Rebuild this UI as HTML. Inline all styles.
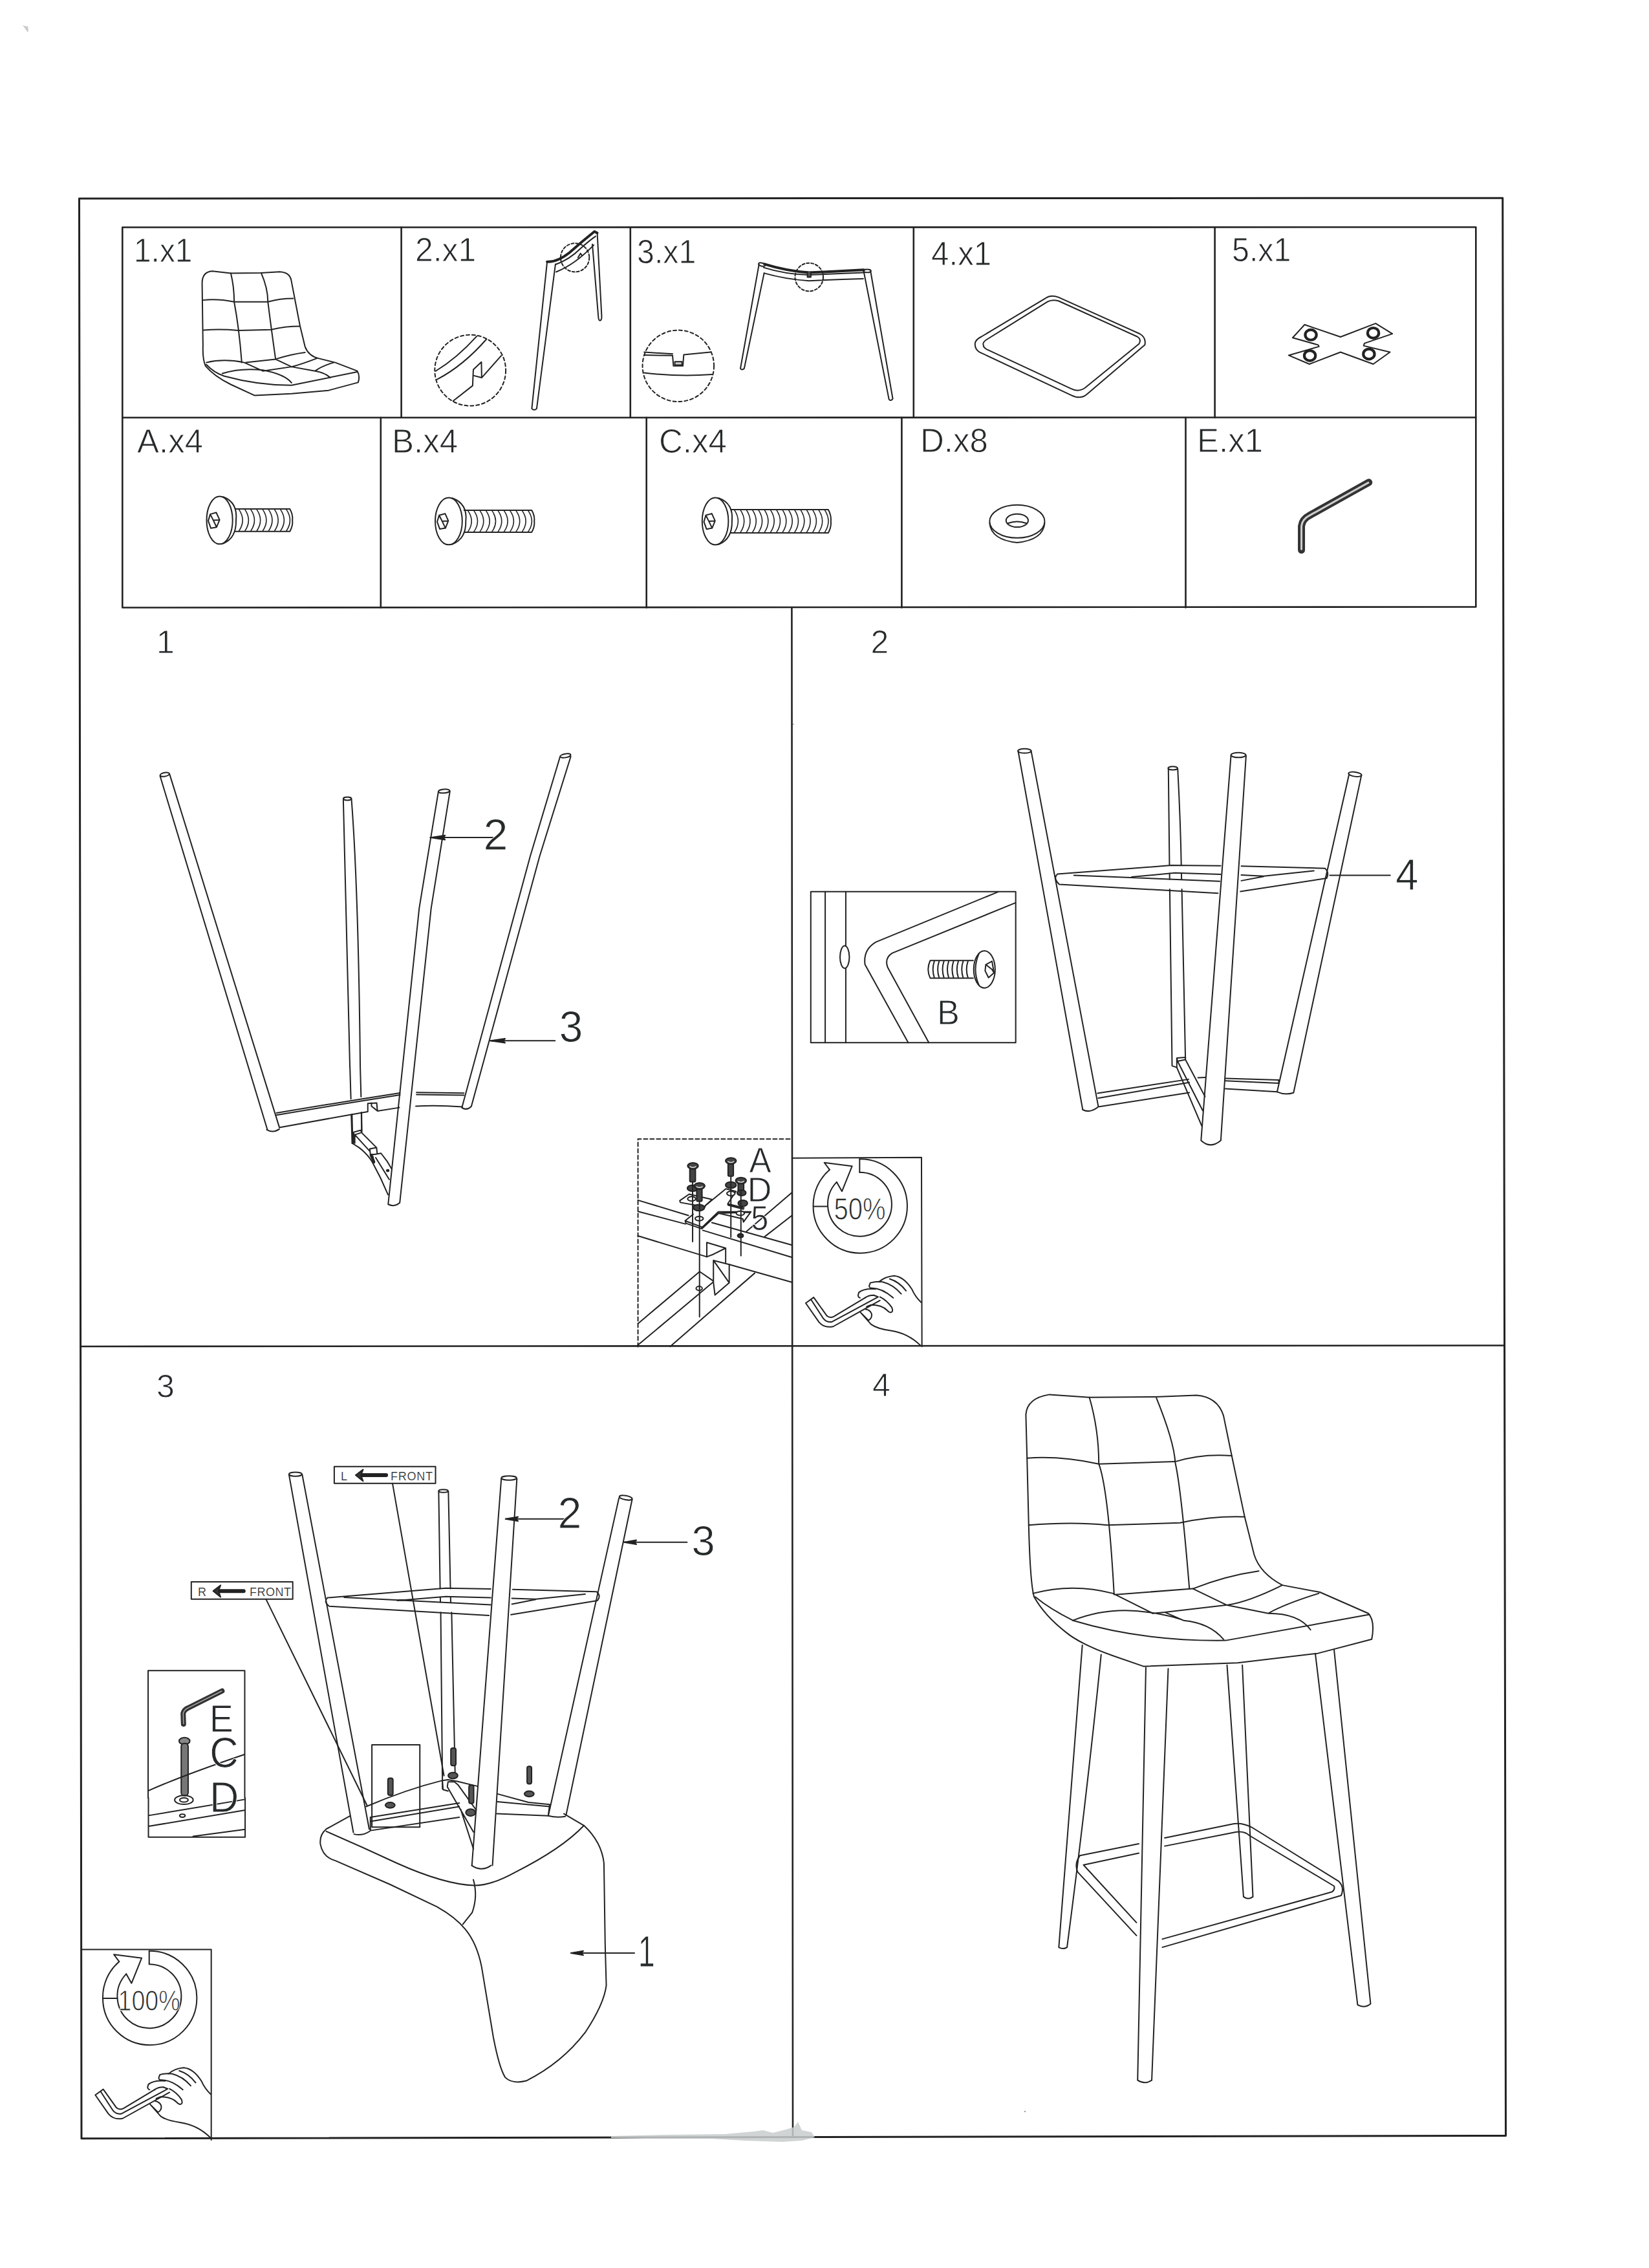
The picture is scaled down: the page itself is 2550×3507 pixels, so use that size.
<!DOCTYPE html>
<html><head><meta charset="utf-8"><style>
html,body{margin:0;padding:0;background:#fff;width:2550px;height:3507px;overflow:hidden}
svg{display:block}
text{font-family:"Liberation Sans",sans-serif;fill:#262a2b;stroke:#fff;stroke-width:0.9px}
.ln{stroke:#222;fill:none;stroke-linecap:round;stroke-linejoin:round}
.d path,.d ellipse,.d circle,.d line,.d polyline,.d polygon,.d rect{vector-effect:non-scaling-stroke}
.d{stroke:#222;fill:none;stroke-width:2;stroke-linecap:round;stroke-linejoin:round}
.d text{stroke:none}
.thin{stroke-width:1.0px}
.nost text{stroke-width:0.2px}
</style></head><body>
<svg width="2550" height="3507" viewBox="0 0 2550 3507">
<!-- GRID -->
<g class="ln" stroke-width="3">
<path d="M122.5,307 L2323.7,306.2 L2328.5,3302.5 L126,3306.7 Z"/>
</g>
<g class="ln" stroke-width="2.6">
<path d="M189.3,351.5 L2282.3,351.3 L2282.3,938.5 L189.3,939.5 Z"/>
<path d="M189.3,645.8 L2282.3,645.5"/>
<path d="M620.6,351.5 V645.8 M974.8,351.5 V645.8 M1412.8,351.5 V645.8 M1878.6,351.5 V645.8"/>
<path d="M588.8,645.8 V939.5 M999.7,645.8 V939.5 M1394.4,645.8 V939.5 M1833.5,645.8 V939.5"/>
<path d="M1224.4,939.5 L1226,3305"/>
<path d="M124.3,2082 L2326.3,2080.5"/>
</g>
<!-- LABELS -->
<g font-size="52">
<text x="207" y="405" transform="translate(207 405) scale(0.92 1) translate(-207 -405)">1.x1</text>
<text x="642" y="404" transform="translate(642 404) scale(0.96 1) translate(-642 -404)">2.x1</text>
<text x="985" y="407" transform="translate(985 407) scale(0.93 1) translate(-985 -407)">3.x1</text>
<text x="1440" y="410" transform="translate(1440 410) scale(0.95 1) translate(-1440 -410)">4.x1</text>
<text x="1905" y="404" transform="translate(1905 404) scale(0.93 1) translate(-1905 -404)">5.x1</text>
</g>
<g font-size="51">
<text x="212" y="700">A.x4</text>
<text x="606" y="699.5">B.x4</text>
<text x="1019" y="699.5">C.x4</text>
<text x="1423" y="699">D.x8</text>
<text x="1851" y="699">E.x1</text>
</g>
<g font-size="50">
<text x="242" y="1010">1</text>
<text x="1346.5" y="1010">2</text>
<text x="242" y="2161">3</text>
<text x="1349" y="2159">4</text>
</g>
<!-- TABLE DRAWINGS -->
<g class="d" transform="translate(190 352) scale(0.26077)" stroke-width="2.2">
<path d="M490,820 Q472,780 475,700 L470,330 Q470,262 530,258 L640,270 L820,268 L930,262 Q988,265 998,310 L1050,580 L1080,705 Q1100,760 1160,775 L1260,800 L1390,850 Q1408,880 1395,918 L1220,965 L1000,985 L780,995 L640,930 Q540,880 490,820 Z"/>
<path d="M495,812 Q540,860 600,880 Q800,935 1000,935 L1390,855"/>
<path d="M640,270 Q660,350 660,440 Q690,600 705,800 M820,268 Q860,360 860,440 Q880,600 905,775"/>
<path d="M475,430 Q560,420 660,440 L860,440 Q930,420 1010,420 M478,608 Q580,600 685,610 L880,605 Q960,585 1050,585"/>
<path d="M495,800 Q600,775 720,800 L830,850 M730,800 L905,780 Q1000,750 1080,740 M905,780 L1000,825 L1140,850 M1150,775 Q1060,810 1000,825 M1250,800 Q1180,820 1140,850 M590,865 Q700,830 830,845 Q960,870 1000,920 M1140,850 Q1200,860 1230,890 M830,850 L1000,825"/>
</g>
<g class="d" transform="translate(620 352) scale(0.21529)" stroke-width="2.2">
<circle cx="498" cy="1025" r="255" stroke-dasharray="5 4"/>
<path d="M250,1030 Q400,940 545,780 M260,1090 Q450,990 615,800 M375,1245 L515,1135 L520,1020 L578,965 L580,1078 L720,920 M520,1062 L580,1078"/>
<path d="M1050,248 L940,1300 Q957,1318 975,1300 L1110,262"/>
<path d="M1050,245 Q1120,250 1210,180 Q1300,100 1390,28 L1410,38" stroke-width="4"/>
<path d="M1110,265 Q1210,230 1290,150 Q1350,95 1398,62 M1115,318 Q1250,265 1385,125"/>
<path d="M1410,38 L1442,640 M1375,120 L1418,640 M1418,640 Q1420,668 1430,668 Q1442,665 1442,640"/>
<circle cx="1250" cy="215" r="103" stroke-dasharray="4 3"/>
<path d="M1272,215 L1290,185 L1300,200"/>
</g>
<g class="d" transform="translate(975 352) scale(0.26560)" stroke-width="2.2">
<circle cx="278" cy="805" r="208" stroke-dasharray="5 4"/>
<path d="M80,725 L245,735 M80,742 L245,745 L250,805 L305,805 L310,740 L465,725 M80,845 Q280,870 475,855"/>
<path d="M258,780 L300,780 L300,800 L258,800 Z" fill="#ccc"/>
<ellipse cx="765" cy="215" rx="20" ry="9" transform="rotate(15 765 215)"/>
<path d="M748,215 L640,820 Q650,832 662,820 L778,265"/>
<ellipse cx="1378" cy="252" rx="22" ry="9"/>
<path d="M1358,255 L1505,1000 Q1515,1012 1527,996 L1398,255"/>
<path d="M780,212 Q900,250 1040,262 L1358,246" stroke-width="4"/>
<path d="M778,265 Q900,300 1040,310 Q1200,300 1355,297 M775,232 Q900,272 1040,275 L1360,262"/>
<circle cx="1040" cy="288" r="82" stroke-dasharray="4 3"/>
<path d="M1030,258 L1030,288 L1050,288 L1050,258" fill="#555"/>
</g>
<g class="d" transform="translate(1413 352) scale(0.28320)" stroke-width="2.2">
<path d="M335,640 Q330,615 370,595 L720,385 Q750,365 790,380 L1235,580 Q1270,600 1262,640 L945,910 Q910,940 860,915 L360,680 Q335,665 335,640 Z"/>
<path d="M380,640 Q375,625 400,610 L730,405 Q755,390 790,400 L1220,595 Q1245,610 1230,635 L935,875 Q900,900 860,880 L400,665 Q380,655 380,640 Z"/>
</g>
<g class="d" transform="translate(1878 352) scale(0.24679)" stroke-width="4.2">
<path d="M565,608 L790,685 L1010,600 L1115,665 L940,725 L935,740 L1100,780 L995,855 L790,780 L595,855 L465,800 L655,745 L650,735 L490,690 Z"/>
<g stroke-width="4.2"><ellipse cx="604" cy="672" rx="35" ry="32"/><ellipse cx="995" cy="660" rx="35" ry="32"/><ellipse cx="598" cy="802" rx="35" ry="32"/><ellipse cx="968" cy="792" rx="35" ry="32"/></g>
</g>
<g class="d" stroke-width="2">
<ellipse cx="339.6" cy="804.4" rx="20.1" ry="36.9"/>
<path d="M345.0,768.2 Q367.9,776.7 365.0,804.4 Q365.7,832.1 345.0,840.6"/>
<path d="M325.1,795.1 L334.4,792.5 L339.6,803.9 L334.9,815.2 L326.1,816.8 L322.0,805.4 Z M325.1,795.1 L329.8,804.4 L339.6,803.9 M329.8,804.4 L334.9,815.2"/>
<path d="M363.7,787.1 L448.2,787.1 Q453.2,795.8 452.2,804.4 Q453.2,813.0 448.2,821.7 L363.7,821.7"/>
<path d="M369.7,788.1 Q380.7,804.4 369.7,820.7 M378.9,788.1 Q389.9,804.4 378.9,820.7 M388.0,788.1 Q399.0,804.4 388.0,820.7 M397.2,788.1 Q408.2,804.4 397.2,820.7 M406.4,788.1 Q417.4,804.4 406.4,820.7 M415.5,788.1 Q426.5,804.4 415.5,820.7 M424.7,788.1 Q435.7,804.4 424.7,820.7 M433.9,788.1 Q444.9,804.4 433.9,820.7 M443.0,788.1 Q454.0,804.4 443.0,820.7 " stroke-width="1.6"/>
<ellipse cx="693.9" cy="805.9" rx="20.9" ry="36.4"/>
<path d="M699.4,770.2 Q723.3,778.6 720.3,805.9 Q721.0,833.2 699.4,841.6"/>
<path d="M679.1,796.7 L688.3,794.2 L693.3,805.4 L688.8,816.6 L680.1,818.1 L676.0,806.9 Z M679.1,796.7 L683.7,805.9 L693.3,805.4 M683.7,805.9 L688.8,816.6"/>
<path d="M717.7,788.9 L822.2,788.9 Q827.2,797.4 826.2,805.9 Q827.2,814.4 822.2,822.9 L717.7,822.9"/>
<path d="M723.7,789.9 Q734.7,805.9 723.7,821.9 M733.0,789.9 Q744.0,805.9 733.0,821.9 M742.3,789.9 Q753.3,805.9 742.3,821.9 M751.7,789.9 Q762.7,805.9 751.7,821.9 M761.0,789.9 Q772.0,805.9 761.0,821.9 M770.3,789.9 Q781.3,805.9 770.3,821.9 M779.6,789.9 Q790.6,805.9 779.6,821.9 M788.9,789.9 Q799.9,805.9 788.9,821.9 M798.2,789.9 Q809.2,805.9 798.2,821.9 M807.6,789.9 Q818.6,805.9 807.6,821.9 M816.9,789.9 Q827.9,805.9 816.9,821.9 " stroke-width="1.6"/>
<ellipse cx="1106.1" cy="805.9" rx="20.3" ry="36.5"/>
<path d="M1111.5,770.1 Q1134.7,778.5 1131.9,805.9 Q1132.5,833.3 1111.5,841.7"/>
<path d="M1091.5,796.7 L1100.7,794.1 L1105.8,805.4 L1101.2,816.6 L1092.6,818.2 L1088.5,806.9 Z M1091.5,796.7 L1096.1,805.9 L1105.8,805.4 M1096.1,805.9 L1101.2,816.6"/>
<path d="M1129.9,787.9 L1280.8,787.9 Q1285.8,796.9 1284.8,805.9 Q1285.8,814.9 1280.8,823.9 L1129.9,823.9"/>
<path d="M1135.9,788.9 Q1146.9,805.9 1135.9,822.9 M1145.2,788.9 Q1156.2,805.9 1145.2,822.9 M1154.5,788.9 Q1165.5,805.9 1154.5,822.9 M1163.8,788.9 Q1174.8,805.9 1163.8,822.9 M1173.1,788.9 Q1184.1,805.9 1173.1,822.9 M1182.4,788.9 Q1193.4,805.9 1182.4,822.9 M1191.7,788.9 Q1202.7,805.9 1191.7,822.9 M1201.0,788.9 Q1212.0,805.9 1201.0,822.9 M1210.3,788.9 Q1221.3,805.9 1210.3,822.9 M1219.7,788.9 Q1230.7,805.9 1219.7,822.9 M1229.0,788.9 Q1240.0,805.9 1229.0,822.9 M1238.3,788.9 Q1249.3,805.9 1238.3,822.9 M1247.6,788.9 Q1258.6,805.9 1247.6,822.9 M1256.9,788.9 Q1267.9,805.9 1256.9,822.9 M1266.2,788.9 Q1277.2,805.9 1266.2,822.9 M1275.5,788.9 Q1286.5,805.9 1275.5,822.9 " stroke-width="1.6"/>
</g>
<g class="d" transform="translate(1340 580) scale(0.36390)" stroke-width="2.2">
<ellipse cx="640" cy="622" rx="117" ry="70"/>
<path d="M523,630 Q530,700 640,712 Q750,700 757,630"/>
<ellipse cx="640" cy="618" rx="47" ry="28"/>
<path d="M600,630 Q640,615 680,630"/>
</g>
<g class="d" transform="translate(1833 645) scale(0.27412)">
<path d="M655,750 L655,615 Q660,575 700,555 L1035,368" stroke-width="11" vector-effect="non-scaling-stroke" stroke="#333"/>
<path d="M655,745 L655,615 Q660,575 700,555 L1032,370" stroke-width="3" stroke="#ccc"/>
</g><!-- STEP 1 -->
<g class="d" transform="translate(200 1120) scale(0.48514)">
<ellipse cx="113" cy="160" rx="15" ry="6" transform="rotate(-10 113 160)"/>
<path d="M98,165 L440,1292 M128,158 L478,1284 M438,1292 Q458,1304 478,1290"/>
<ellipse cx="695" cy="237" rx="13" ry="5"/>
<path d="M682,240 L703,1092 M708,238 Q730,520 736,1092"/>
<ellipse cx="1003" cy="213" rx="18" ry="6" transform="rotate(-5 1003 213)"/>
<path d="M985,215 L924,586 L825,1530 M1022,213 L962,586 L862,1525 M825,1530 Q845,1540 862,1525"/>
<ellipse cx="1390" cy="100" rx="17" ry="6" transform="rotate(-10 1390 100)"/>
<path d="M1373,103 L1278,420 L1060,1222 M1407,103 L1308,420 L1090,1218 M1060,1222 Q1075,1232 1090,1218"/>
</g>
<g class="d" transform="translate(400 1650) scale(0.21226)">
<path d="M130,335 Q600,255 1030,188 M130,350 Q600,270 1030,203" />
<path d="M150,440 L680,345 L795,325 L795,265 L860,262 L865,320 L1025,295"/>
<path d="M822,262 L822,285 L860,315"/>
<path d="M1150,185 L1495,190 M1150,200 L1495,205 M1145,285 Q1300,275 1485,290"/>
<path d="M665,0 L672,232 M740,0 L746,217 M680,345 L685,550 M748,330 L750,470"/>

</g>
<g class="d" transform="translate(530 1700) scale(0.090966)" stroke-width="2.2">
<path d="M145,258 L160,745 M320,225 L325,540"/>
<path d="M160,565 L300,525 L325,560 M205,600 L300,570 M160,745 L280,820 Q420,930 500,1060 L640,1330 L770,1620"/>
<path d="M205,600 L205,745 M205,600 L460,880 M320,565 L575,820 L585,915 M460,840 L575,820 M460,840 L470,935 L545,935 L650,915 L760,1060 L830,1180 M560,990 L790,1360 M510,960 L535,1080"/>
<ellipse cx="765" cy="1210" rx="18" ry="14" fill="#333"/>
<path d="M175,570 L175,740 M480,950 L530,1060" stroke-width="4"/>
</g>
<g class="d" transform="translate(650 1250) scale(0.18192)" stroke-width="2.4">
<path d="M85,248 L620,248"/>
<path d="M85,248 L210,230 L195,248 L210,266 Z" fill="#222"/>
<path d="M595,1975 L1145,1975"/>
<path d="M595,1975 L720,1957 L705,1975 L720,1993 Z" fill="#222"/>
</g>
<g><text transform="translate(747.6 1314.0) scale(1.004 1)" font-size="68.0" fill="#2a2a2a">2</text><text transform="translate(864.8 1611.3) scale(0.968 1)" font-size="67.9" fill="#2a2a2a">3</text></g>
<!-- STEP1 INSET -->
<g class="d" transform="translate(970 1740) scale(0.15767)" stroke-width="2.2">
<path d="M105,2172 L105,135 L1615,135" stroke-dasharray="6 4"/>
<path d="M105,735 L600,885 M830,955 L1615,1175 M105,845 L570,968 M740,1030 L1615,1295 M105,1085 L780,1290 M1000,1365 L1615,1540"/>
<path d="M105,1945 L710,1435 M105,2155 L840,1540 M420,2170 L1250,1450 M1165,1045 L1615,660 M1345,1095 L1615,885"/>
<path d="M780,1150 L965,1205 L965,1345 M780,1150 L780,1290 L845,1265 L965,1205 M845,1325 L1000,1365 L1000,1545 L860,1665 L845,1540 L845,1325 M1000,1545 L845,1325 M710,1435 L840,1525"/>
<ellipse cx="705" cy="1600" rx="30" ry="20"/><ellipse cx="1110" cy="1082" rx="28" ry="18"/>
</g>
<g class="d" transform="translate(1040 1780) scale(0.097031)" stroke-width="2.2">
<path d="M115,790 L265,685 L630,770 L520,870 M115,790 L125,818 L515,890 L525,865"/>
<path d="M520,870 L850,600 L1010,640 L880,840 L1140,905 M880,840 L885,862 L1130,925"/>
<path d="M200,1110 L330,1005 M200,1110 L215,1150 L460,1235 L470,1210 L200,1110 M470,1215 L730,965 L1250,965 L1130,1130 L1140,1105 M470,1235 L735,990 L1120,1080 L1130,1130 M735,990 L1240,975"/>
<g fill="#444">
<rect x="275" y="270" width="90" height="220" rx="20"/><ellipse cx="325" cy="235" rx="85" ry="50"/>
<rect x="885" y="190" width="85" height="210" rx="20"/><ellipse cx="930" cy="155" rx="85" ry="50"/>
<ellipse cx="320" cy="590" rx="85" ry="50"/><ellipse cx="930" cy="540" rx="85" ry="50"/>
<rect x="385" y="590" width="85" height="210" rx="20"/><ellipse cx="430" cy="555" rx="85" ry="50"/>
<rect x="1045" y="500" width="90" height="150" rx="20"/><ellipse cx="1090" cy="470" rx="85" ry="50"/>
<ellipse cx="1100" cy="665" rx="70" ry="45"/><ellipse cx="1120" cy="830" rx="75" ry="50"/><ellipse cx="420" cy="900" rx="90" ry="50"/>
<ellipse cx="1085" cy="1350" rx="40" ry="25"/>
</g>
<g stroke="#ddd" stroke-width="1.5"><path d="M280,245 Q325,275 370,245 M885,165 Q930,195 975,165 M385,565 Q430,595 475,565 M1045,480 Q1090,510 1135,480"/></g>
<ellipse cx="305" cy="760" rx="65" ry="35" fill="#fff"/><ellipse cx="930" cy="675" rx="65" ry="35" fill="#fff"/>
<ellipse cx="425" cy="1075" rx="65" ry="35" fill="#fff"/><ellipse cx="1080" cy="990" rx="65" ry="35" fill="#fff"/>
<path d="M320,490 L320,1443 M430,800 L430,2642 M930,400 L930,1370 M1090,640 L1090,1667"/>
</g>
<g><text transform="translate(1158.4 1812.5) scale(0.918 1)" font-size="55.9" fill="#2a2a2a">A</text><text transform="translate(1155.8 1857.5) scale(0.968 1)" font-size="53.8" fill="#2a2a2a">D</text><text transform="translate(1161.2 1901.9) scale(0.902 1)" font-size="54.0" fill="#2a2a2a">5</text></g>
<!-- STEP 2 -->
<g class="d" transform="translate(1530 1120) scale(0.4245)" stroke-width="2.1">
<ellipse cx="128" cy="97" rx="24" ry="8"/>
<path d="M105,99 L340,1404 M152,97 L397,1393 M340,1404 Q368,1418 397,1393"/>
<ellipse cx="668" cy="160" rx="17" ry="6"/>
<path d="M652,162 L656,514 M656.3,543 L656.6,565 M657,601 L665.5,1244 L682.7,1250 M686,162 Q696,350 699,514 M699.5,543 L700,565 M701,601 L714,1216"/>
<ellipse cx="907" cy="112" rx="27" ry="9"/>
<path d="M880,114 L771,1516 M935,114 L843,1516 M771,1516 Q805,1548 843,1516"/>
<ellipse cx="1332" cy="182" rx="24" ry="8" transform="rotate(8 1332 182)"/>
<path d="M1310,183 L1048,1339 M1355,187 L1108,1342 M1048,1339 Q1077,1352 1108,1342"/>
<path d="M248,545.3 L663,513.8 L842.2,515.2 M917.6,516.4 L1222.4,524.6 M308,549.8 L839,571.7 M518.5,555.9 L675.6,541.5 L842.2,546.5 M917.6,549.1 L999.3,552.9 L1182.1,533.8 M917.6,569.8 L999.3,554 M254.4,582.8 L832.7,615.3 M914.5,609.2 L1228.7,560.7 M248,545.3 Q231,561 254.4,582.8 M1222.4,524.6 Q1239,539.5 1228.7,560.7"/>

<path d="M394,1344 L725.5,1293 M397,1361.6 L728.4,1304.4 M400,1393 L728.4,1341.6 M759.8,1287.3 L785.5,1286 M859.8,1290 L1054,1295.8 M859.8,1298.7 L1054,1307.3 M859.8,1327.3 L1048.4,1338.7 M1054,1295.8 L1054,1307.3"/>
<path d="M682.7,1215.8 L714.1,1213 L714.1,1221.6 L685.5,1227.3 Z M682.7,1215.8 L682.7,1250 L774,1464 M685.5,1227.3 L777,1407 M714.1,1221.6 L785.5,1356"/>
<path d="M1240,550 L1460,550"/>
</g>
<text transform="translate(2158.2 1376.2) scale(0.925 1)" font-size="68.2" fill="#2a2a2a">4</text>
<!-- STEP2 INSET B -->
<g class="d" transform="translate(1240 1360) scale(0.21225)" stroke-width="2.2">
<path d="M65,88 L1558,88 L1558,1188 L65,1188 Z"/>
<path d="M170,88 L170,1188 M320,88 L320,485 M320,645 L320,1188"/>
<ellipse cx="312" cy="565" rx="34" ry="82"/>
<path d="M1430,90 L540,455 Q445,510 460,620 L775,1188 M1555,170 L660,535 Q600,570 625,640 L925,1188"/>
<ellipse cx="1330" cy="655" rx="78" ry="135"/>
<path d="M1290,540 Q1240,655 1290,770"/>
<path d="M1340,620 L1385,595 L1400,680 L1360,715 L1335,665 Z M1340,620 L1385,655 L1400,680"/>
<path d="M1248,590 L935,590 Q905,655 935,718 L1248,718"/>
<path d="M965,595 Q945,655 965,715 M1000,595 Q980,655 1000,715 M1035,595 Q1015,655 1035,715 M1070,595 Q1050,655 1070,715 M1105,595 Q1085,655 1105,715 M1140,595 Q1120,655 1140,715 M1175,595 Q1155,655 1175,715 M1210,595 Q1190,655 1210,715"/>
</g>
<text transform="translate(1449.1 1583.9) scale(0.972 1)" font-size="53.8" fill="#2a2a2a">B</text>
<!-- 50% ICON -->

<g class="d" transform="translate(1220 1780) scale(0.13665)" stroke-width="2.2">
<path d="M38,78 L1500,72 L1505,2210"/>
<path d="M800,90 A532,532 0 1 1 275,625 A532,532 0 0 1 460,210"/>
<path d="M800,240 A362,362 0 1 1 440,625 A362,362 0 0 1 540,350"/>
<path d="M460,210 L400,130 L715,170 L600,455 L540,350 M800,90 L800,240 M280,625 L440,625"/>
<path d="M190,1720 L280,1655 L430,1865 Q465,1895 510,1870 L860,1660 M190,1720 L340,1935 Q400,2005 500,1985 L1030,1690 M250,1680 L390,1895 Q430,1945 490,1930 L1000,1655"/>
<path d="M860,1660 Q900,1630 960,1630 L1010,1650"/>
<path d="M1020,1480 Q1080,1420 1190,1410 Q1300,1420 1390,1560 Q1430,1650 1495,1710 M1140,1445 Q1250,1480 1325,1580 M920,1490 Q1000,1470 1060,1480 Q1180,1510 1270,1615 M920,1495 Q895,1540 925,1550 Q1050,1545 1180,1660 M790,1600 Q850,1550 980,1560 M790,1605 Q770,1650 805,1660"/>
<path d="M1030,1650 Q1110,1690 1165,1770 Q1185,1820 1150,1825 Q1130,1825 1110,1800 Q1050,1740 930,1740 L880,1760"/>
<path d="M810,1825 L900,1915 Q945,1890 935,1840 Q920,1800 870,1790 M810,1825 L930,1960 Q1000,2010 1150,2030 Q1350,2060 1490,2200"/>

</g>
<g class="d" transform="translate(121.4 3004.5) scale(0.13665)" stroke-width="2.2">
<path d="M800,90 A532,532 0 1 1 275,625 A532,532 0 0 1 460,210"/>
<path d="M800,240 A362,362 0 1 1 440,625 A362,362 0 0 1 540,350"/>
<path d="M460,210 L400,130 L715,170 L600,455 L540,350 M800,90 L800,240 M280,625 L440,625"/>
<path d="M190,1720 L280,1655 L430,1865 Q465,1895 510,1870 L860,1660 M190,1720 L340,1935 Q400,2005 500,1985 L1030,1690 M250,1680 L390,1895 Q430,1945 490,1930 L1000,1655"/>
<path d="M860,1660 Q900,1630 960,1630 L1010,1650"/>
<path d="M1020,1480 Q1080,1420 1190,1410 Q1300,1420 1390,1560 Q1430,1650 1495,1710 M1140,1445 Q1250,1480 1325,1580 M920,1490 Q1000,1470 1060,1480 Q1180,1510 1270,1615 M920,1495 Q895,1540 925,1550 Q1050,1545 1180,1660 M790,1600 Q850,1550 980,1560 M790,1605 Q770,1650 805,1660"/>
<path d="M1030,1650 Q1110,1690 1165,1770 Q1185,1820 1150,1825 Q1130,1825 1110,1800 Q1050,1740 930,1740 L880,1760"/>
<path d="M810,1825 L900,1915 Q945,1890 935,1840 Q920,1800 870,1790 M810,1825 L930,1960 Q1000,2010 1150,2030 Q1350,2060 1490,2200"/>

</g>
<text transform="translate(182.5 3109.4) scale(0.86 1)" font-size="43.7" fill="#2a2a2a" class="thin">100%</text>
<text transform="translate(1289.4 1886.1) scale(0.831 1)" font-size="48.2" fill="#2a2a2a" class="thin">50%</text>
<!-- STEP 3 -->
<g class="d" transform="translate(400 2250) scale(0.45481)" stroke-width="2.1">
<ellipse cx="125" cy="65" rx="22" ry="7"/>
<path d="M103,66 L322,1283 M148,66 L376,1272"/>
<ellipse cx="628" cy="122" rx="16" ry="5"/>
<path d="M612,123 L617,454 M617.5,483 L618,500 M619,535 L625,1135 M645,123 L652,454 M652.5,483 L653,500 M656,535 L668,1090"/>
<ellipse cx="851" cy="78" rx="26" ry="7"/>
<path d="M825,80 L725,1395 M878,80 L795,1395"/>
<ellipse cx="1248" cy="145" rx="22" ry="7" transform="rotate(10 1248 145)"/>
<path d="M1225,146 L985,1225 M1270,150 L1045,1225"/>

<path d="M455,96 L630,1090 M25,490 L368,1190"/>
<path d="M385,985 L548,985 L548,1265 L385,1265 Z"/>
</g>
<g class="d" stroke-width="2.1"><path d="M506.4,2470.6 L689.2,2455.8 L758.8,2456.9 M792.9,2457.7 L922.5,2461.3 M532.3,2470 L758.8,2481.5 M614.2,2474.9 L689.2,2468.7 L758.8,2470.6 M791.6,2471.4 L828.4,2472.7 L904.8,2465.1 M791.6,2480.4 L828.4,2473.3 M509.1,2483.7 L756.1,2497.9 M790.2,2496.8 L923.9,2474.9 M506.4,2470.6 Q500,2477 509.1,2483.7 M922.5,2461.3 Q930,2467.3 923.9,2474.9"/></g>
<g class="d" transform="translate(540 2680) scale(0.21831)" stroke-width="2.1">
<path d="M120,520 Q400,400 660,335 L700,330 L760,340 L905,375"/>
<path d="M150,595 L780,495 M150,625 L780,520 M150,690 L780,595 M150,595 L150,690"/>
<path d="M35,715 Q90,730 145,695 M1410,585 Q1470,600 1530,590"/>
<path d="M660,340 L665,400 L700,410 M700,345 L745,345 L770,365 L900,545 M695,380 L880,700 M790,540 L880,820 M700,345 L695,380"/>
<path d="M1050,430 L1270,490 L1420,505 M1050,485 L1420,520 M1045,570 L1410,585 M1420,505 L1410,585"/>
<g fill="#555">
<rect x="274" y="318" width="36" height="122" rx="14"/><ellipse cx="290" cy="510" rx="34" ry="20"/>
<rect x="720" y="105" width="36" height="125" rx="14"/><ellipse cx="735" cy="300" rx="34" ry="22"/>
<rect x="848" y="368" width="34" height="130" rx="14"/><ellipse cx="860" cy="562" rx="34" ry="25"/>
<rect x="1260" y="235" width="32" height="125" rx="14"/><ellipse cx="1275" cy="430" rx="34" ry="20"/>
</g>
</g>
<g class="d" transform="translate(450 2750) scale(0.36386)" stroke-width="2.1">
<path d="M250,160 L150,215 Q120,240 125,280 Q135,335 190,350 L420,450 L620,545 Q700,590 740,640 Q790,700 810,800 L860,1100 Q885,1230 910,1270 Q940,1300 1000,1285 Q1150,1210 1250,1080 Q1330,960 1340,880 L1335,700 L1330,360 Q1320,270 1245,200 L1160,150"/>
<path d="M150,225 Q300,290 450,360 Q650,450 780,455 Q850,455 950,400 Q1150,300 1245,200"/>
<path d="M775,430 Q795,500 770,570 L730,620"/>
<path d="M768,370 Q810,398 850,370"/>
</g>
<g class="d" stroke-width="2.2">
<path d="M781.8,2348.8 L873.5,2348.8 M965.2,2384.8 L1062.4,2384.8 M883,3020 L981,3020"/>
<path d="M781.8,2348.8 L801,2345.5 L798,2348.8 L801,2352 Z M965.2,2384.8 L984,2381.5 L981,2384.8 L984,2388 Z M883,3020 L902,3016.7 L899,3020 L902,3023.3 Z" fill="#222"/>
</g>
<g><text transform="translate(862.6 2363.4) scale(0.979 1)" font-size="67.7" fill="#2a2a2a">2</text><text transform="translate(1069.6 2404.9) scale(1.009 1)" font-size="64.5" fill="#2a2a2a">3</text><text transform="translate(986.7 3041.0) scale(0.68 1)" font-size="68.4" fill="#2a2a2a">1</text></g>
<!-- L/R FRONT labels -->
<g class="d" transform="translate(280 2250) scale(0.2547)" stroke-width="2.2">
<path d="M930,70 L1545,70 L1545,172 L930,172 Z M62,770 L678,770 L678,875 L62,875 Z"/>
<path d="M1090,122 L1245,122 M225,825 L380,825" stroke-width="6"/>
<path d="M1060,122 L1105,88 L1092,122 L1105,158 Z M195,825 L240,790 L227,825 L240,862 Z" fill="#333"/>
</g>
<g font-size="18" fill="#333" class="nost">
<text x="527" y="2288.5">L</text>
<text x="604" y="2288.5" textLength="65">FRONT</text>
<text x="306" y="2468">R</text>
<text x="386" y="2468" textLength="64">FRONT</text>
</g>
<!-- E C D inset -->
<g class="d" transform="translate(210 2560) scale(0.11905)" stroke-width="2.2">
<path d="M160,1848 L160,195 L1415,195 L1415,1848"/>
<path d="M620,890 L615,750 Q630,700 680,680 L1120,460" stroke-width="8" stroke="#333"/>
<path d="M620,885 L615,750 Q630,700 680,680 L1115,462" stroke="#aaa" stroke-width="1.5"/>
<ellipse cx="632" cy="1110" rx="70" ry="45" fill="#888"/>
<rect x="590" y="1140" width="90" height="680" rx="40" fill="#777"/>
<path d="M165,1755 Q600,1560 1410,1285"/>
<ellipse cx="625" cy="1875" rx="120" ry="58"/><ellipse cx="625" cy="1875" rx="55" ry="28"/>
<ellipse cx="605" cy="2080" rx="35" ry="20"/>
</g>
<g class="d" transform="translate(120 2780) scale(0.2381)" stroke-width="2.2">
<path d="M460,0 L460,255 L1088,255 L1088,0 M460,115 L1088,10 M460,185 L1088,80 M750,250 L1088,205"/>
<path d="M25,985 L868,985 L868,2222"/>
</g>
<g><text transform="translate(324.1 2677.9) scale(0.923 1)" font-size="59.6" fill="#2a2a2a">E</text><text transform="translate(324.2 2732.5) scale(0.928 1)" font-size="66.2" fill="#2a2a2a">C</text><text transform="translate(324.0 2802.3) scale(0.943 1)" font-size="66.5" fill="#2a2a2a">D</text></g>
<!-- STEP 4 -->
<g class="d" transform="translate(1550 2120) scale(0.36386)" stroke-width="2.1">
<path d="M135,960 Q118,900 112,650 L105,370 L100,185 Q105,115 200,100 L370,112 L650,110 L825,103 Q915,110 940,190 L975,360 L1030,620 L1070,780 Q1095,860 1190,910 L1350,940 L1555,1030 Q1585,1060 1570,1140 L1340,1200 L1000,1240 L600,1255 L470,1210 Q330,1160 270,1110 Q180,1040 135,960 Z"/>
<path d="M140,960 Q200,1010 300,1060 Q600,1150 950,1145 L1560,1035"/>
<path d="M130,945 Q300,900 470,945 L640,1030 M480,950 L810,925 Q950,870 1090,850"/>
<path d="M370,112 Q410,250 410,395 Q450,500 475,950 M655,115 Q730,300 735,390 Q760,500 795,925"/>
<path d="M105,370 Q250,360 410,395 L735,385 Q850,350 975,360 M112,655 Q300,640 445,655 L755,645 Q900,615 1030,620"/>
<path d="M810,925 L955,995 L1130,1030 M1190,910 Q1050,980 955,995 M1345,945 Q1200,990 1130,1030 M300,1060 Q450,1000 620,1025 Q720,1040 770,1060 Q880,1070 940,1140 M690,1025 L770,1060 M1130,1030 Q1260,1030 1310,1100 M640,1030 L690,1025 L950,995"/>
<path d="M340,1165 L240,2449 M420,1205 Q360,1800 275,2449 M240,2449 Q258,2460 275,2449"/>
<path d="M610,1260 L575,3014 M705,1265 L635,3014 M575,3014 Q605,3034 635,3014"/>
<path d="M955,1250 L1025,2234 M1020,1250 L1065,2234 M1025,2234 Q1045,2250 1065,2234"/>
<path d="M1330,1200 L1510,2694 M1410,1185 L1565,2689 M1510,2694 Q1540,2710 1565,2689"/>
<path d="M330,2059 L580,2009 M690,1984 L985,1924 Q1020,1919 1060,1939 L1430,2169 Q1455,2194 1440,2229 L680,2449 M570,2399 L320,2129 Q305,2094 330,2059"/>
<path d="M345,2099 L580,2049 M690,2019 L995,1959 Q1030,1954 1050,1974 L1410,2189 Q1415,2204 1400,2214 L680,2414 M570,2344 L345,2099"/>
</g>
<!-- scan artifacts -->
<g fill="#c8cccc" stroke="none">
<path d="M35,39 L41,41 L43,40 L44,48 L43,50 L40,46 Z"/>
<path d="M945,3303 L1030,3301 L1120,3300 L1165,3296 L1180,3294 L1195,3298 L1215,3293 L1228,3289 L1234,3281 L1240,3294 L1255,3297 L1260,3305 L1240,3310 L1210,3312 L1150,3310 L1100,3307 L1000,3307 L945,3306 Z" opacity="0.85"/>
<rect x="1584" y="3264" width="2" height="2" fill="#999"/>
<rect x="1226" y="1119" width="2" height="2" fill="#bbb"/>
</g>
</svg>
</body></html>
